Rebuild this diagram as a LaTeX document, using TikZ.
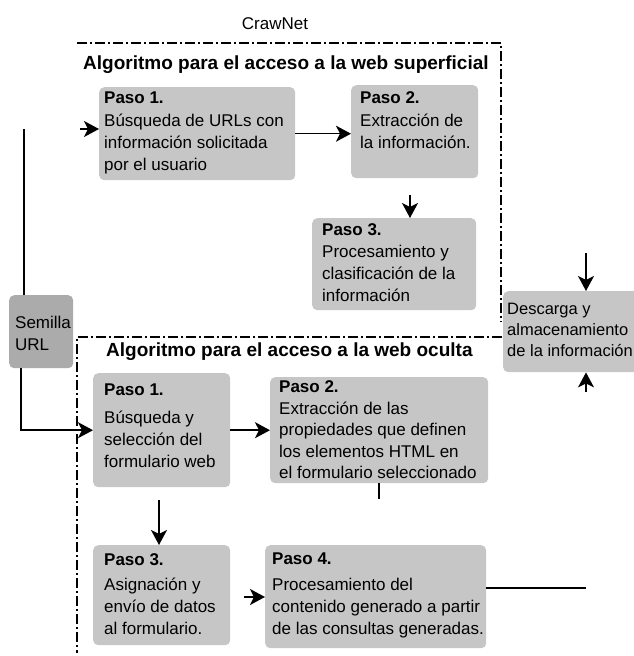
\documentclass[tikz,border=0pt]{standalone}
\usepackage{fontspec}
\setmainfont{Liberation Sans}
\usepackage{xcolor}
\usetikzlibrary{arrows.meta,calc}
\definecolor{boxgray}{HTML}{C6C6C6}
\definecolor{semgray}{HTML}{ABABAB}
\begin{document}
\begin{tikzpicture}[
  x=1pt, y=-1pt,
  paso/.style={rectangle,rounded corners=5pt,fill=boxgray,anchor=north west,inner sep=0pt},
  txt/.style={anchor=north west,align=left,inner sep=0pt,font=\fontsize{17}{22}\selectfont},
  ttl/.style={anchor=base west,inner sep=0pt,font=\fontsize{19}{23}\selectfont\bfseries},
  frame/.style={line width=1.2pt,dash pattern=on 10pt off 3pt on 2pt off 3pt},
  arr/.style={-{Stealth[length=15pt,width=16pt,inset=4pt]},line width=1.5pt},
  con/.style={line width=1.5pt}
]
\useasboundingbox (0,0) rectangle (633,656);

\node[anchor=base,inner sep=0pt,font=\fontsize{17}{22}\selectfont] (crawnet) at (275,29) {CrawNet};

% web superficial
\draw[frame] (77,43) -- (501,43) -- (501,322);
\node[ttl] (tsup) at (83,69) {Algoritmo para el acceso a la web superficial};

\node[paso,minimum width=196pt,minimum height=93pt] (s1) at (99,87) {};
\node[txt] (s1t) at (104,91.5) {\textbf{Paso 1.}\\[1pt]Búsqueda de URLs con\\información solicitada\\por el usuario};
\node[paso,minimum width=127pt,minimum height=93pt] (s2) at (351,85) {};
\node[txt] (s2t) at (360,91.5) {\textbf{Paso 2.}\\[1pt]Extracción de\\la información.};
\node[paso,minimum width=164pt,minimum height=92pt] (s3) at (312,218) {};
\node[txt] (s3t) at (322,223.5) {\textbf{Paso 3.}\\Procesamiento y\\clasificación de la\\información};

% semilla y descarga
\node[paso,fill=semgray,minimum width=64pt,minimum height=73pt] (sem) at (9,295) {};
\node[txt] (semt) at (15,315.5) {Semilla\\URL};
\node[paso,minimum width=137pt,minimum height=81pt] (d) at (503,291) {};
\node[txt,font=\fontsize{16.5}{21}\selectfont] (dt) at (507,303) {Descarga y\\almacenamiento\\de la información};

% web oculta
\draw[frame] (502,337) -- (77,337) -- (77,653);
\node[ttl] (toc) at (106,356) {Algoritmo para el acceso a la web oculta};

\node[paso,minimum width=137pt,minimum height=114pt] (h1) at (93,373) {};
\node[txt] (h1t) at (104,383.5) {\textbf{Paso 1.}\\[6pt]Búsqueda y\\selección del\\formulario web};
\node[paso,minimum width=218pt,minimum height=106pt] (h2) at (270,377) {};
\node[txt,font=\fontsize{17}{21.5}\selectfont] (h2t) at (279,380.5) {\textbf{Paso 2.}\\Extracción de las\\propiedades que definen\\los elementos HTML en\\el formulario seleccionado};
\node[paso,minimum width=137pt,minimum height=100pt] (h3) at (93,545) {};
\node[txt] (h3t) at (104,553.5) {\textbf{Paso 3.}\\[3pt]Asignación y\\envío de datos\\al formulario.};
\node[paso,minimum width=221pt,minimum height=103pt] (h4) at (265,545) {};
\node[txt] (h4t) at (272,552.5) {\textbf{Paso 4.}\\[4pt]Procesamiento del\\contenido generado a partir\\de las consultas generadas.};

\coordinate (a1) at (80,129);
\coordinate (a2) at (410,195);
\coordinate (a3) at (586,253);
\coordinate (a4) at (586,392);
\coordinate (a5) at (159,500);
\coordinate (a6) at (244,597);
\coordinate (e1) at (586,588);

\draw[con] ([xshift=-17pt]sem.north) -- ([xshift=-17pt]sem.north |- a1);
\draw[arr] (a1) -- (a1 -| s1.west);
\draw[arr] (s1.east) -- (s1.east -| s2.west);
\draw[arr] (a2) -- (a2 |- s3.north);
\draw[arr] (a3) -- (a3 |- d.north);
\draw[arr] (a4) -- (a4 |- d.south);
\draw[arr] ([xshift=-20pt]sem.south) |- (h1.west);
\draw[arr] (h1.east) -- (h1.east -| h2.west);
\draw[arr] (a5) -- (a5 |- h3.north);
\draw[con] (h2.south) -- ++(0,16);
\draw[arr] (a6) -- (a6 -| h4.west);
\draw[con] (e1 -| h4.east) -- (e1);
\end{tikzpicture}
\end{document}
